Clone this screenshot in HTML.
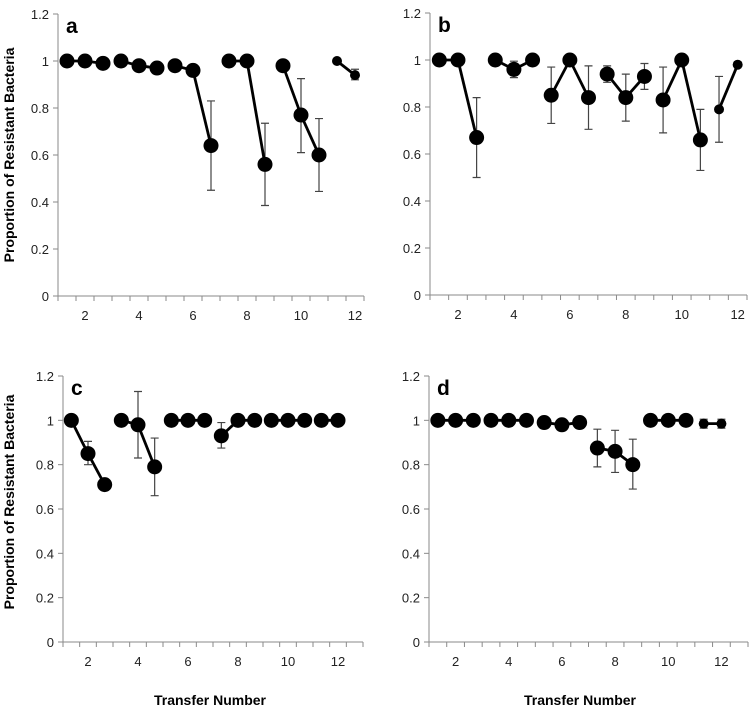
<!DOCTYPE html>
<html><head><meta charset="utf-8"><style>
html,body{margin:0;padding:0;background:#fff;}
svg text{font-family:"Liberation Sans",sans-serif;}
</style></head><body>
<svg id="fig" width="749" height="712" viewBox="0 0 749 712" xmlns="http://www.w3.org/2000/svg">
<text transform="translate(14,155) rotate(-90)" text-anchor="middle" font-size="14" font-weight="bold">Proportion of Resistant Bacteria</text>
<text transform="translate(14,502) rotate(-90)" text-anchor="middle" font-size="14" font-weight="bold">Proportion of Resistant Bacteria</text>
<text x="210" y="705" text-anchor="middle" font-size="14" font-weight="bold">Transfer Number</text>
<text x="580" y="705" text-anchor="middle" font-size="14" font-weight="bold">Transfer Number</text>
</svg>
<script>
const yTicks = [0, 0.2, 0.4, 0.6, 0.8, 1, 1.2];
const yTickLabels = ["0", "0.2", "0.4", "0.6", "0.8", "1", "1.2"];
const xTickLabels = ["2", "4", "6", "8", "10", "12"];
const xTickIndex = [1, 4, 7, 10, 13, 16];

const aValues = [1, 1, 0.99, 1, 0.98, 0.97, 0.98, 0.96, 0.64, 1, 1, 0.56, 0.98, 0.77, 0.60, 1, 0.94];
const aLow = [null, null, null, null, 0.96, 0.95, 0.96, 0.94, 0.45, null, null, 0.385, null, 0.61, 0.445, null, 0.92];
const aHigh = [null, null, null, null, 1.0, 0.99, 1.0, 0.98, 0.83, null, null, 0.735, null, 0.925, 0.755, null, 0.965];
const aGroups = [0, 0, 0, 1, 1, 1, 2, 2, 2, 3, 3, 3, 4, 4, 4, 5, 5];

const bValues = [1, 1, 0.67, 1, 0.96, 1, 0.85, 1, 0.84, 0.94, 0.84, 0.93, 0.83, 1, 0.66, 0.79, 0.98];
const bLow = [null, null, 0.50, null, 0.925, null, 0.73, null, 0.705, 0.905, 0.74, 0.875, 0.69, null, 0.53, 0.65, null];
const bHigh = [null, null, 0.84, null, 0.995, null, 0.97, null, 0.975, 0.975, 0.94, 0.985, 0.97, null, 0.79, 0.93, null];
const bGroups = [0, 0, 0, 1, 1, 1, 2, 2, 2, 3, 3, 3, 4, 4, 4, 5, 5];

const cValues = [1, 0.85, 0.71, 1, 0.98, 0.79, 1, 1, 1, 0.93, 1, 1, 1, 1, 1, 1, 1];
const cLow = [null, 0.80, null, null, 0.83, 0.66, null, null, null, 0.875, null, null, null, null, null, null, null];
const cHigh = [null, 0.905, null, null, 1.13, 0.92, null, null, null, 0.99, null, null, null, null, null, null, null];
const cGroups = [0, 0, 0, 1, 1, 1, 2, 2, 2, 3, 3, 3, 4, 4, 4, 5, 5];

const dValues = [1, 1, 1, 1, 1, 1, 0.99, 0.98, 0.99, 0.875, 0.86, 0.80, 1, 1, 1, 0.985, 0.985];
const dLow = [null, null, null, null, null, null, null, null, null, 0.79, 0.765, 0.69, null, null, null, 0.965, 0.965];
const dHigh = [null, null, null, null, null, null, null, null, null, 0.96, 0.955, 0.915, null, null, null, 1.005, 1.005];
const dGroups = [0, 0, 0, 1, 1, 1, 2, 2, 2, 3, 3, 3, 4, 4, 4, 5, 5];

const NS = "http://www.w3.org/2000/svg";
const svg = document.getElementById("fig");
function mk(tag, attrs, parent) {
  const e = document.createElementNS(NS, tag);
  for (const k in attrs) e.setAttribute(k, attrs[k]);
  (parent || svg).appendChild(e);
  return e;
}

function drawPanel(id, letter, box, values, low, high, groups, smallFrom) {
  const g = mk("g", {});
  
  
  const xs = i => box.x0 + (i + 0.5) * (box.x1 - box.x0) / box.n;
  const ys = v => box.y0 - v / 1.2 * (box.y0 - box.ytop);
  const axis = mk("path", {d: `M${box.x0} ${box.ytop}V${box.y0}H${box.x1}`, stroke: "#8a8a8a", "stroke-width": 1, fill: "none"}, g);
  
  
  yTicks.forEach((t, k) => {
    const y = ys(t);
    mk("line", {x1: box.x0 - 5, x2: box.x0, y1: y, y2: y, stroke: "#8a8a8a"}, g);
    const tx = mk("text", {x: box.x0 - 9, y: y + 5, "text-anchor": "end", "font-size": 13, fill: "#222"}, g);
    tx.textContent = yTickLabels[k];
    
    
  });
  for (let i = 0; i <= box.n; i++) {
    const x = box.x0 + i * (box.x1 - box.x0) / box.n;
    mk("line", {x1: x, x2: x, y1: box.y0, y2: box.y0 + 5, stroke: "#8a8a8a"}, g);
  }
  xTickIndex.forEach((ix, k) => {
    const tx = mk("text", {x: xs(ix), y: box.y0 + 24, "text-anchor": "middle", "font-size": 13, fill: "#222"}, g);
    tx.textContent = xTickLabels[k];
    
    
  });
  const lt = mk("text", {x: box.x0 + 8, y: box.ytop + 19, "font-size": 21, "font-weight": "bold"}, g);
  lt.textContent = letter;
  
  
  // error bars
  values.forEach((v, i) => {
    if (low[i] == null) return;
    const x = xs(i), yl = ys(low[i]), yh = ys(high[i]);
    const eb = mk("path", {d: `M${x} ${yl}V${yh}M${x-4} ${yl}H${x+4}M${x-4} ${yh}H${x+4}`, stroke: "#444", "stroke-width": 1.2, fill: "none"}, g);
    
    
  });
  // lines
  for (let i = 1; i < values.length; i++) {
    if (groups[i] !== groups[i - 1]) continue;
    const ln = mk("line", {x1: xs(i - 1), y1: ys(values[i - 1]), x2: xs(i), y2: ys(values[i]), stroke: "#000", "stroke-width": 2.8}, g);
    
    
  }
  values.forEach((v, i) => {
    const c = mk("circle", {cx: xs(i), cy: ys(v), r: i >= smallFrom ? 5 : 7.5, fill: "#000"}, g);
    
    
  });
}

drawPanel("a", "a", {x0: 58, x1: 364, y0: 296, ytop: 14, n: 17}, aValues, aLow, aHigh, aGroups, 15);
drawPanel("b", "b", {x0: 430, x1: 747, y0: 295, ytop: 13, n: 17}, bValues, bLow, bHigh, bGroups, 15);
drawPanel("c", "c", {x0: 63, x1: 363, y0: 642, ytop: 376, n: 18}, cValues, cLow, cHigh, cGroups, 99);
drawPanel("d", "d", {x0: 429, x1: 748, y0: 642, ytop: 376, n: 18}, dValues, dLow, dHigh, dGroups, 15);
</script>
</body></html>
